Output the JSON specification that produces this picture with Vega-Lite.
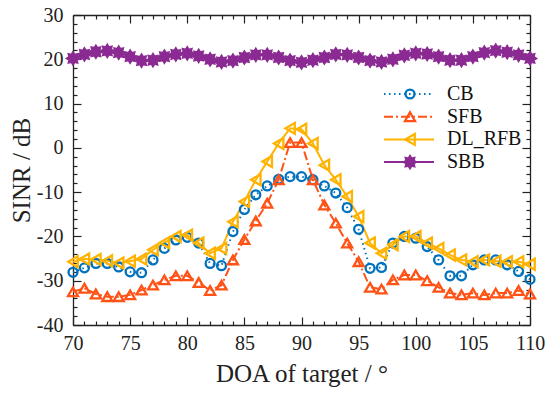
{
"$schema": "https://vega.github.io/schema/vega-lite/v6.json",
"width": 457, "height": 310,
"autosize": {"type": "none"},
"padding": {"left": 73, "top": 15, "right": 20, "bottom": 70},
"background": "white",
"config": {
  "view": {"stroke": null},
  "font": "Liberation Serif",
  "axis": {"grid": false, "domainColor": "#222", "domainWidth": 1.3, "tickColor": "#222", "tickWidth": 1.2,
    "labelFont": "Liberation Serif", "labelFontSize": 20, "labelColor": "#222",
    "titleFont": "Liberation Serif", "titleFontSize": 25, "titleFontWeight": "normal", "titleColor": "#222"}
},
"datasets": {
 "d": [
{"doa":70,"series":"CB","sinr":-28.1},{"doa":71,"series":"CB","sinr":-27.1},{"doa":72,"series":"CB","sinr":-26.1},{"doa":73,"series":"CB","sinr":-26.1},{"doa":74,"series":"CB","sinr":-26.9},{"doa":75,"series":"CB","sinr":-28.0},{"doa":76,"series":"CB","sinr":-28.2},{"doa":77,"series":"CB","sinr":-25.3},{"doa":78,"series":"CB","sinr":-22.7},{"doa":79,"series":"CB","sinr":-20.8},{"doa":80,"series":"CB","sinr":-20.2},{"doa":81,"series":"CB","sinr":-21.5},{"doa":82,"series":"CB","sinr":-26.1},{"doa":83,"series":"CB","sinr":-26.6},{"doa":84,"series":"CB","sinr":-18.9},{"doa":85,"series":"CB","sinr":-13.9},{"doa":86,"series":"CB","sinr":-10.6},{"doa":87,"series":"CB","sinr":-8.6},{"doa":88,"series":"CB","sinr":-7.1},{"doa":89,"series":"CB","sinr":-6.5},{"doa":90,"series":"CB","sinr":-6.5},{"doa":91,"series":"CB","sinr":-7.2},{"doa":92,"series":"CB","sinr":-8.6},{"doa":93,"series":"CB","sinr":-10.2},{"doa":94,"series":"CB","sinr":-13.5},{"doa":95,"series":"CB","sinr":-18.4},{"doa":96,"series":"CB","sinr":-27.2},{"doa":97,"series":"CB","sinr":-27.0},{"doa":98,"series":"CB","sinr":-21.5},{"doa":99,"series":"CB","sinr":-20.0},{"doa":100,"series":"CB","sinr":-20.4},{"doa":101,"series":"CB","sinr":-22.3},{"doa":102,"series":"CB","sinr":-25.3},{"doa":103,"series":"CB","sinr":-28.9},{"doa":104,"series":"CB","sinr":-28.9},{"doa":105,"series":"CB","sinr":-26.4},{"doa":106,"series":"CB","sinr":-25.3},{"doa":107,"series":"CB","sinr":-25.3},{"doa":108,"series":"CB","sinr":-26.4},{"doa":109,"series":"CB","sinr":-27.9},{"doa":110,"series":"CB","sinr":-29.7},
{"doa":70,"series":"SFB","sinr":-32.5},{"doa":71,"series":"SFB","sinr":-31.7},{"doa":72,"series":"SFB","sinr":-33.0},{"doa":73,"series":"SFB","sinr":-33.6},{"doa":74,"series":"SFB","sinr":-33.6},{"doa":75,"series":"SFB","sinr":-33.2},{"doa":76,"series":"SFB","sinr":-32.1},{"doa":77,"series":"SFB","sinr":-31.0},{"doa":78,"series":"SFB","sinr":-29.8},{"doa":79,"series":"SFB","sinr":-28.9},{"doa":80,"series":"SFB","sinr":-28.9},{"doa":81,"series":"SFB","sinr":-30.4},{"doa":82,"series":"SFB","sinr":-32.2},{"doa":83,"series":"SFB","sinr":-31.0},{"doa":84,"series":"SFB","sinr":-25.3},{"doa":85,"series":"SFB","sinr":-20.7},{"doa":86,"series":"SFB","sinr":-16.5},{"doa":87,"series":"SFB","sinr":-12.5},{"doa":88,"series":"SFB","sinr":-7.2},{"doa":89,"series":"SFB","sinr":1.2},{"doa":90,"series":"SFB","sinr":1.2},{"doa":91,"series":"SFB","sinr":-7.2},{"doa":92,"series":"SFB","sinr":-12.9},{"doa":93,"series":"SFB","sinr":-17.0},{"doa":94,"series":"SFB","sinr":-21.5},{"doa":95,"series":"SFB","sinr":-25.7},{"doa":96,"series":"SFB","sinr":-31.5},{"doa":97,"series":"SFB","sinr":-31.9},{"doa":98,"series":"SFB","sinr":-29.8},{"doa":99,"series":"SFB","sinr":-28.7},{"doa":100,"series":"SFB","sinr":-28.7},{"doa":101,"series":"SFB","sinr":-30.0},{"doa":102,"series":"SFB","sinr":-31.5},{"doa":103,"series":"SFB","sinr":-32.8},{"doa":104,"series":"SFB","sinr":-33.2},{"doa":105,"series":"SFB","sinr":-32.8},{"doa":106,"series":"SFB","sinr":-33.2},{"doa":107,"series":"SFB","sinr":-32.8},{"doa":108,"series":"SFB","sinr":-32.8},{"doa":109,"series":"SFB","sinr":-32.2},{"doa":110,"series":"SFB","sinr":-33.0},
{"doa":70,"series":"DL_RFB","sinr":-25.7},{"doa":71,"series":"DL_RFB","sinr":-25.1},{"doa":72,"series":"DL_RFB","sinr":-25.2},{"doa":73,"series":"DL_RFB","sinr":-25.5},{"doa":74,"series":"DL_RFB","sinr":-26.0},{"doa":75,"series":"DL_RFB","sinr":-25.6},{"doa":76,"series":"DL_RFB","sinr":-25.1},{"doa":77,"series":"DL_RFB","sinr":-23.0},{"doa":78,"series":"DL_RFB","sinr":-21.4},{"doa":79,"series":"DL_RFB","sinr":-20.0},{"doa":80,"series":"DL_RFB","sinr":-19.7},{"doa":81,"series":"DL_RFB","sinr":-21.5},{"doa":82,"series":"DL_RFB","sinr":-23.8},{"doa":83,"series":"DL_RFB","sinr":-22.7},{"doa":84,"series":"DL_RFB","sinr":-16.7},{"doa":85,"series":"DL_RFB","sinr":-12.1},{"doa":86,"series":"DL_RFB","sinr":-7.2},{"doa":87,"series":"DL_RFB","sinr":-3.1},{"doa":88,"series":"DL_RFB","sinr":1.0},{"doa":89,"series":"DL_RFB","sinr":4.4},{"doa":90,"series":"DL_RFB","sinr":4.2},{"doa":91,"series":"DL_RFB","sinr":1.0},{"doa":92,"series":"DL_RFB","sinr":-3.9},{"doa":93,"series":"DL_RFB","sinr":-7.2},{"doa":94,"series":"DL_RFB","sinr":-11.0},{"doa":95,"series":"DL_RFB","sinr":-15.5},{"doa":96,"series":"DL_RFB","sinr":-21.5},{"doa":97,"series":"DL_RFB","sinr":-23.8},{"doa":98,"series":"DL_RFB","sinr":-21.9},{"doa":99,"series":"DL_RFB","sinr":-20.0},{"doa":100,"series":"DL_RFB","sinr":-20.0},{"doa":101,"series":"DL_RFB","sinr":-21.5},{"doa":102,"series":"DL_RFB","sinr":-22.7},{"doa":103,"series":"DL_RFB","sinr":-24.2},{"doa":104,"series":"DL_RFB","sinr":-25.3},{"doa":105,"series":"DL_RFB","sinr":-25.7},{"doa":106,"series":"DL_RFB","sinr":-25.3},{"doa":107,"series":"DL_RFB","sinr":-25.6},{"doa":108,"series":"DL_RFB","sinr":-25.7},{"doa":109,"series":"DL_RFB","sinr":-25.7},{"doa":110,"series":"DL_RFB","sinr":-26.3},
{"doa":70,"series":"SBB","sinr":20.2},{"doa":71,"series":"SBB","sinr":21.1},{"doa":72,"series":"SBB","sinr":21.7},{"doa":73,"series":"SBB","sinr":21.9},{"doa":74,"series":"SBB","sinr":21.5},{"doa":75,"series":"SBB","sinr":20.6},{"doa":76,"series":"SBB","sinr":19.7},{"doa":77,"series":"SBB","sinr":19.8},{"doa":78,"series":"SBB","sinr":20.6},{"doa":79,"series":"SBB","sinr":21.1},{"doa":80,"series":"SBB","sinr":21.35},{"doa":81,"series":"SBB","sinr":20.75},{"doa":82,"series":"SBB","sinr":20.0},{"doa":83,"series":"SBB","sinr":19.4},{"doa":84,"series":"SBB","sinr":19.7},{"doa":85,"series":"SBB","sinr":20.4},{"doa":86,"series":"SBB","sinr":21.0},{"doa":87,"series":"SBB","sinr":21.0},{"doa":88,"series":"SBB","sinr":20.4},{"doa":89,"series":"SBB","sinr":19.7},{"doa":90,"series":"SBB","sinr":19.3},{"doa":91,"series":"SBB","sinr":19.8},{"doa":92,"series":"SBB","sinr":20.4},{"doa":93,"series":"SBB","sinr":21.1},{"doa":94,"series":"SBB","sinr":21.0},{"doa":95,"series":"SBB","sinr":20.4},{"doa":96,"series":"SBB","sinr":19.7},{"doa":97,"series":"SBB","sinr":19.4},{"doa":98,"series":"SBB","sinr":20.0},{"doa":99,"series":"SBB","sinr":20.9},{"doa":100,"series":"SBB","sinr":21.35},{"doa":101,"series":"SBB","sinr":21.2},{"doa":102,"series":"SBB","sinr":20.6},{"doa":103,"series":"SBB","sinr":19.8},{"doa":104,"series":"SBB","sinr":19.8},{"doa":105,"series":"SBB","sinr":20.6},{"doa":106,"series":"SBB","sinr":21.5},{"doa":107,"series":"SBB","sinr":21.95},{"doa":108,"series":"SBB","sinr":21.6},{"doa":109,"series":"SBB","sinr":21.0},{"doa":110,"series":"SBB","sinr":20.2}
 ]
},
"data": {"name": "d"},
"layer": [
 {
  "mark": {"type": "line", "strokeWidth": 2},
  "encoding": {
   "x": {"field": "doa", "type": "quantitative", "scale": {"domain": [70, 110], "nice": false, "zero": false},
     "axis": {"orient": "bottom", "values": [70,71,72,73,74,75,76,77,78,79,80,81,82,83,84,85,86,87,88,89,90,91,92,93,94,95,96,97,98,99,100,101,102,103,104,105,106,107,108,109,110],
       "labelExpr": "datum.value % 5 === 0 ? '' + datum.value : ''",
       "tickSize": {"condition": {"test": "datum.value % 5 === 0", "value": -8}, "value": -4},
       "labelPadding": 16, "labelFlush": false, "labelOverlap": false, "title": "DOA of target / °", "titlePadding": 4}},
   "y": {"field": "sinr", "type": "quantitative", "scale": {"domain": [-40, 30], "nice": false, "zero": false},
     "axis": {"orient": "left", "values": [-40,-38,-36,-34,-32,-30,-28,-26,-24,-22,-20,-18,-16,-14,-12,-10,-8,-6,-4,-2,0,2,4,6,8,10,12,14,16,18,20,22,24,26,28,30],
       "labelExpr": "datum.value % 10 === 0 ? '' + datum.value : ''",
       "tickSize": {"condition": {"test": "datum.value % 10 === 0", "value": -8}, "value": -4},
       "labelPadding": 18, "labelFlush": false, "labelOverlap": false, "title": "SINR / dB", "titlePadding": 2}},
   "stroke": {"field": "series", "type": "nominal",
     "scale": {"domain": ["CB", "SFB", "DL_RFB", "SBB", "none"], "range": ["#0072BD", "#FF5214", "#FFB300", "#8A2A92", "#000000"]},
     "legend": {"orient": "none", "legendX": 310, "legendY": 69, "direction": "vertical", "title": null, "padding": 0,
       "values": ["CB", "SFB", "DL_RFB", "SBB"], "clipHeight": 20,
       "symbolType": "stroke", "symbolSize": 2500, "symbolStrokeWidth": 2, "labelFont": "Liberation Serif", "labelFontSize": 20, "labelColor": "#111",
       "labelOffset": 12, "rowPadding": 2.7, "labelLimit": 200}},
   "strokeDash": {"field": "series", "type": "nominal",
     "scale": {"domain": ["CB", "SFB", "DL_RFB", "SBB", "none"], "range": [[1.5, 3.5], [9, 3, 2, 3], [1, 0], [1, 0], [1, 0]]},
     "legend": {"values": ["CB", "SFB", "DL_RFB", "SBB"]}}
  }
 },
 {
  "mark": {"type": "point", "filled": false, "strokeWidth": 2.3, "opacity": 1},
  "encoding": {
   "x": {"field": "doa", "type": "quantitative",
     "axis": {"orient": "top", "values": [70,71,72,73,74,75,76,77,78,79,80,81,82,83,84,85,86,87,88,89,90,91,92,93,94,95,96,97,98,99,100,101,102,103,104,105,106,107,108,109,110],
       "labels": false, "title": null,
       "tickSize": {"condition": {"test": "datum.value % 5 === 0", "value": -8}, "value": -4}}},
   "y": {"field": "sinr", "type": "quantitative",
     "axis": {"orient": "right", "values": [-40,-38,-36,-34,-32,-30,-28,-26,-24,-22,-20,-18,-16,-14,-12,-10,-8,-6,-4,-2,0,2,4,6,8,10,12,14,16,18,20,22,24,26,28,30],
       "labels": false, "title": null,
       "tickSize": {"condition": {"test": "datum.value % 10 === 0", "value": -8}, "value": -4}}},
   "color": {"field": "series", "type": "nominal",
     "scale": {"domain": ["CB", "SFB", "DL_RFB", "SBB"], "range": ["#0072BD", "#FF5214", "#FFB300", "#8A2A92"]},
     "legend": {"orient": "none", "legendX": 327, "legendY": 69, "direction": "vertical", "title": null, "padding": 0,
       "clipHeight": 20, "labelExpr": "''",
       "symbolStrokeWidth": 2.3, "labelFont": "Liberation Serif", "labelFontSize": 20, "rowPadding": 2.7}},
   "fill": {"field": "series", "type": "nominal",
     "scale": {"domain": ["CB", "SFB", "DL_RFB", "SBB"], "range": ["transparent", "transparent", "transparent", "#8A2A92"]}},
   "shape": {"field": "series", "type": "nominal",
     "scale": {"domain": ["CB", "SFB", "DL_RFB", "SBB"], "range": ["circle", "triangle-up", "triangle-left", "M1,0L0.6,0.249L0.707,0.707L0.249,0.6L0,1L-0.249,0.6L-0.707,0.707L-0.6,0.249L-1,0L-0.6,-0.249L-0.707,-0.707L-0.249,-0.6L0,-1L0.249,-0.6L0.707,-0.707L0.6,-0.249Z"]}},
   "size": {"field": "series", "type": "nominal",
     "scale": {"domain": ["CB", "SFB", "DL_RFB", "SBB"], "range": [80, 140, 140, 90]}}
  }
 }
],
"resolve": {"axis": {"x": "independent", "y": "independent"}}
}
